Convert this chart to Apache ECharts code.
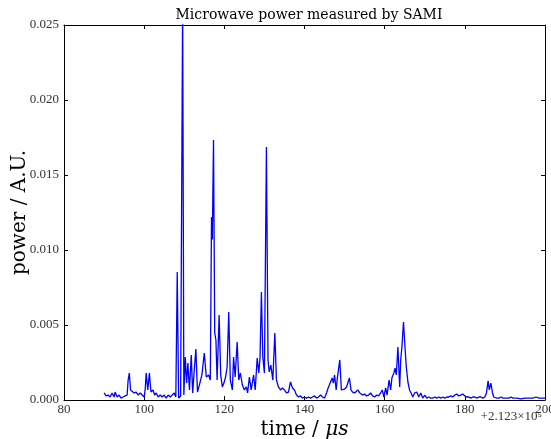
<!DOCTYPE html>
<html><head><meta charset="utf-8">
<script src="https://cdn.jsdelivr.net/npm/echarts@6/dist/echarts.min.js"></script>
<style>html,body{margin:0;padding:0;background:#fff}#c{width:551px;height:439px}</style>
</head><body><div id="c"></div>
<script>
const times = [90.0,90.5,91.0,91.5,92.0,92.5,92.75,93.25,93.75,94.25,94.75,95.25,95.75,96.0,96.3,96.6,97.0,97.5,98.0,98.5,99.0,99.5,100.0,100.25,100.5,100.9,101.3,101.7,102.2,102.6,103.0,103.5,104.0,104.5,105.0,105.5,106.0,106.5,107.0,107.5,107.9,108.25,108.6,109.1,109.6,109.9,110.25,110.6,110.9,111.3,111.75,112.1,112.5,112.9,113.3,113.9,114.4,115.0,115.5,116.1,116.5,116.8,117.0,117.3,117.6,117.9,118.2,118.7,119.1,119.5,119.9,120.3,120.7,121.1,121.5,122.0,122.3,122.7,123.2,123.6,124.0,124.5,125.0,125.5,125.8,126.25,126.7,127.3,127.7,128.2,128.6,128.9,129.25,129.6,130.0,130.5,130.9,131.2,131.6,132.1,132.6,133.0,133.5,134.0,134.5,135.0,135.5,136.0,136.5,137.0,137.5,138.0,138.5,139.0,139.5,140.0,140.5,141.0,141.5,142.0,142.5,143.0,143.5,144.0,144.5,145.0,145.5,145.9,146.3,146.9,147.2,147.5,147.9,148.2,148.8,149.2,149.6,150.0,150.5,151.2,151.6,152.0,152.5,153.3,153.8,154.5,155.0,155.5,156.0,156.5,157.0,157.5,158.0,158.5,159.0,159.4,159.8,160.25,160.6,161.1,161.5,161.8,162.3,162.6,162.9,163.3,163.75,164.0,164.3,164.7,165.0,165.4,165.8,166.2,166.6,167.0,167.5,168.0,168.5,169.0,169.5,170.0,170.5,171.0,171.5,172.0,172.5,173.0,173.5,174.0,174.5,175.0,175.5,176.0,176.5,177.0,177.5,178.0,178.5,179.0,179.5,180.0,180.5,181.0,181.5,182.0,182.5,183.0,183.5,184.0,184.5,185.0,185.4,185.8,186.1,186.5,186.9,187.2,187.5,188.0,188.5,189.0,189.5,190.0,191.0,191.5,192.0,193.0,194.0,195.0,196.0,197.0,197.75,198.5,199.2,200.0];
const power = [0.00047,0.00027,0.00033,0.0002,0.00047,0.0002,0.00053,0.0002,0.00033,0.00013,0.0002,0.00027,0.00033,0.00133,0.0018,0.00067,0.0008,0.00047,0.00053,0.00033,0.00047,0.00033,0.0002,0.00067,0.0018,0.00067,0.0018,0.00053,0.00067,0.00033,0.00047,0.0002,0.00033,0.0002,0.00033,0.00013,0.00033,0.0002,0.00033,0.00047,0.0002,0.00853,0.00013,0.00027,0.0265,0.00033,0.00287,0.00113,0.00247,0.00067,0.003,0.00047,0.002,0.0034,0.00053,0.00113,0.00167,0.00313,0.00153,0.00167,0.00133,0.0122,0.0107,0.01733,0.00447,0.004,0.00133,0.00567,0.00167,0.00087,0.00113,0.00153,0.0022,0.00587,0.00133,0.00067,0.00287,0.00153,0.00387,0.00133,0.0018,0.001,0.00067,0.00087,0.00047,0.00153,0.00067,0.00167,0.00067,0.0028,0.0018,0.0028,0.0072,0.00287,0.0018,0.01687,0.00267,0.00187,0.00233,0.00133,0.00447,0.00133,0.00087,0.00067,0.0008,0.00067,0.00047,0.00053,0.0012,0.0008,0.00067,0.00033,0.0002,0.00027,0.00013,0.0002,0.00013,0.0002,0.00013,0.0002,0.00027,0.00013,0.0002,0.00033,0.0002,0.00013,0.00047,0.0008,0.00067,0.00147,0.00113,0.00167,0.00067,0.00147,0.00267,0.00067,0.00067,0.00073,0.00087,0.00147,0.00067,0.00053,0.00047,0.00067,0.00047,0.00033,0.0004,0.00027,0.00033,0.00047,0.00027,0.0002,0.00033,0.00027,0.00047,0.00067,0.0002,0.0008,0.00033,0.00133,0.00067,0.00147,0.0018,0.00213,0.00167,0.00353,0.00087,0.00267,0.00353,0.0052,0.0038,0.0022,0.0012,0.00067,0.00047,0.0002,0.00047,0.00053,0.0002,0.00047,0.00013,0.00033,0.00013,0.0002,0.00013,0.00013,0.0002,0.00013,0.0002,0.00013,0.0002,0.00013,0.0002,0.0002,0.00027,0.0002,0.00033,0.0004,0.00027,0.00033,0.0004,0.00027,0.0002,0.0002,0.00013,0.0002,0.0002,0.00013,0.0002,0.0002,0.00013,0.0002,0.00047,0.00127,0.00067,0.00113,0.00047,0.0002,0.00033,0.00013,0.00013,0.0002,0.00013,0.00013,0.00013,0.0002,0.00013,0.00013,0.00007,0.00013,0.00013,0.00013,0.0002,0.00013,0.00013,0.00013];
const xTicks = [80, 100, 120, 140, 160, 180, 200];
const yTicks = [0, 0.005, 0.010, 0.015, 0.020, 0.025];
const titleText = 'Microwave power measured by SAMI';
const offsetText = '+2.123×10⁵';

const serif = '"DejaVu Serif", "Liberation Serif", serif';
const tickFont = '"Liberation Serif", serif';
const chart = echarts.init(document.getElementById('c'), null, {renderer: 'canvas'});
const G = {left: 64, right: 6, top: 25, bottom: 39, containLabel: false, outerBoundsMode: 'none'};
const axisCommon = {
  axisLine: {show: true, onZero: false, lineStyle: {color: '#000', width: 1}},
  axisTick: {show: true, inside: true, length: 4, lineStyle: {color: '#000'}},
  splitLine: {show: false}
};
chart.setOption({
  animation: false,
  title: {text: titleText, left: 304, top: 3, textAlign: 'center',
    textStyle: {fontFamily: serif, fontWeight: 'normal', fontSize: 14, color: '#000'}},
  grid: G,
  xAxis: [
    Object.assign({type: 'value', min: xTicks[0], max: xTicks[xTicks.length-1], interval: 20,
      position: 'bottom',
      axisLabel: {fontFamily: tickFont, fontSize: 13, color: '#333', margin: 3},
      name: '{a|time / }{b|μs}', nameLocation: 'middle', nameGap: 20, nameMoveOverlap: false,
      nameTextStyle: {rich: {a: {fontFamily: serif, fontSize: 20, color: '#000'},
                              b: {fontFamily: serif, fontSize: 20, fontStyle: 'italic', color: '#000'}}}
    }, axisCommon),
    Object.assign({type: 'value', min: 80, max: 200, interval: 20, position: 'top',
      axisLabel: {show: false}}, axisCommon)
  ],
  yAxis: [
    Object.assign({type: 'value', min: yTicks[0], max: yTicks[yTicks.length-1], interval: 0.005,
      position: 'left',
      axisLabel: {fontFamily: tickFont, fontSize: 13, color: '#333', margin: 5,
        formatter: v => v.toFixed(3)},
      name: 'power / A.U.', nameLocation: 'middle', nameGap: 34, nameRotate: 90, nameMoveOverlap: false,
      nameTextStyle: {fontFamily: serif, fontSize: 20, color: '#000'}
    }, axisCommon),
    Object.assign({type: 'value', min: 0, max: 0.025, interval: 0.005, position: 'right',
      axisLabel: {show: false}}, axisCommon)
  ],
  graphic: [{type: 'text', right: 9, top: 410,
    style: {text: offsetText, font: '13px ' + tickFont, fill: '#333'}}],
  series: [{
    type: 'line', xAxisIndex: 0, yAxisIndex: 0,
    data: times.map((t, i) => [t, power[i]]),
    showSymbol: false, symbol: 'none', clip: true,
    lineStyle: {color: '#0000ff', width: 1.3},
    itemStyle: {color: '#0000ff'}
  }]
});
</script></body></html>
